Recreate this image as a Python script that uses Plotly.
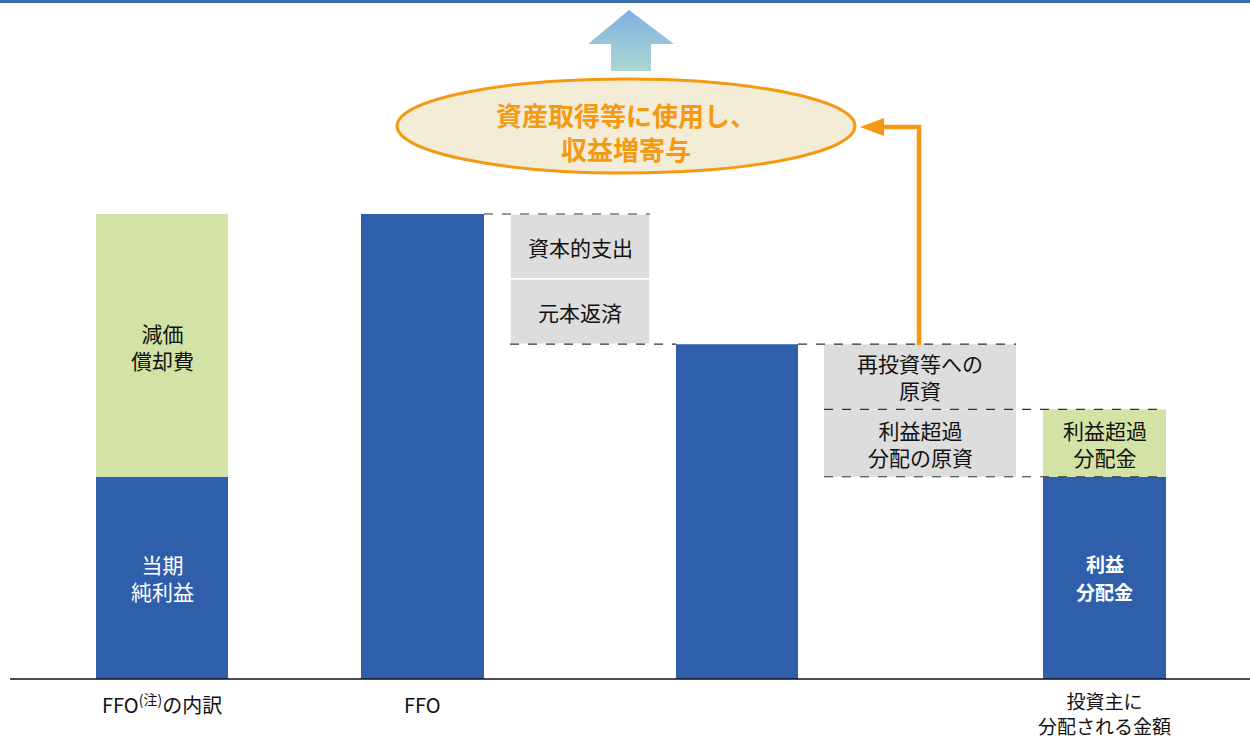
import plotly.graph_objects as go

# ---------------- data (units: FFO = 100) ----------------
categories = ["FFO<sup>(注)</sup>の内訳", "FFO", "", "投資主に<br>分配される金額"]
net_income = 43.5          # 当期純利益
depreciation = 56.5        # 減価償却費
capex = 14.0               # 資本的支出
principal = 14.0           # 元本返済
reinvest = 14.0            # 再投資等への原資
excess_source = 14.5       # 利益超過分配の原資
profit_dist = 43.5         # 利益分配金
excess_dist = 14.5         # 利益超過分配金

ffo = net_income + depreciation
after_debt = ffo - capex - principal

# ---------------- layout constants ----------------
W, H = 1250, 740
BASE_PX = 679
PX_PER_UNIT = 4.65
y_min = -(H - BASE_PX) / PX_PER_UNIT
y_max = BASE_PX / PX_PER_UNIT

def py(p):  # pixel row -> paper y
    return 1 - p / H

def dy(p):  # pixel row -> data y
    return (BASE_PX - p) / PX_PER_UNIT

centers = [162, 422.5, 737, 1104.5]
widths = [132, 123, 122, 123]
gray1_x, gray1_w = 580, 140
gray2_x, gray2_w = 920, 192

BLUE = "#2f5fab"
GREEN = "#d3e3a5"
GRAY = "#dcdddc"
ORANGE = "#f39a12"
FONT = "Noto Sans CJK JP"

fig = go.Figure()

# blue bars
fig.add_trace(go.Bar(
    x=centers, y=[net_income, ffo, after_debt, profit_dist], width=widths,
    marker=dict(color=BLUE, line=dict(width=0)), hoverinfo="skip"))
# green segments
fig.add_trace(go.Bar(
    x=[centers[0], centers[3]], y=[depreciation, excess_dist],
    base=[net_income, profit_dist], width=[widths[0], widths[3]],
    marker=dict(color=GREEN, line=dict(width=0)), hoverinfo="skip"))
# gray boxes (capex, principal)
fig.add_trace(go.Bar(
    x=[gray1_x, gray1_x], y=[capex, principal],
    base=[ffo - capex, after_debt], width=[gray1_w, gray1_w],
    marker=dict(color=GRAY, line=dict(color="white", width=1.5)), hoverinfo="skip"))
# gray boxes (reinvest, excess source)
fig.add_trace(go.Bar(
    x=[gray2_x, gray2_x], y=[reinvest, excess_source],
    base=[after_debt - reinvest, after_debt - reinvest - excess_source],
    width=[gray2_w, gray2_w],
    marker=dict(color=GRAY, line=dict(width=0)), hoverinfo="skip"))

shapes = []
def dash(x0, x1, y):
    shapes.append(dict(type="line", xref="x", yref="y", x0=x0, x1=x1, y0=y, y1=y,
                       line=dict(color="#333333", width=1.2, dash="dash")))

dash(centers[1] + widths[1] / 2, gray1_x + gray1_w / 2, ffo)
dash(gray1_x - gray1_w / 2, centers[2] - widths[2] / 2, after_debt)
dash(centers[2] + widths[2] / 2, gray2_x + gray2_w / 2, after_debt)
dash(gray2_x - gray2_w / 2, centers[3] + widths[3] / 2, after_debt - reinvest)
dash(gray2_x - gray2_w / 2, centers[3] + widths[3] / 2, profit_dist)

# baseline
shapes.append(dict(type="line", xref="x", yref="y", x0=10, x1=1250, y0=0, y1=0,
                   line=dict(color="#111111", width=1.6)))
# top blue rule
shapes.append(dict(type="line", xref="paper", yref="paper", x0=0, x1=1, y0=py(1.5), y1=py(1.5),
                   line=dict(color="#3a6ca8", width=3)))
# ellipse
shapes.append(dict(type="circle", xref="x", yref="paper", x0=397, x1=855, y0=py(173), y1=py(79),
                   fillcolor="#f3ecd7", line=dict(color=ORANGE, width=3), layer="above"))
# orange elbow line
shapes.append(dict(type="path", xref="x", yref="paper",
                   path=f"M 919,{py(345)} L 919,{py(127)} L 878,{py(127)}",
                   line=dict(color=ORANGE, width=4.5), layer="above"))
fig.layout.shapes = shapes

# orange arrowhead
fig.add_trace(go.Scatter(
    x=[860, 884, 884, 860], y=[dy(127), dy(118), dy(136), dy(127)],
    fill="toself", fillcolor=ORANGE, line=dict(color=ORANGE, width=0),
    mode="lines", hoverinfo="skip"))

# gradient up arrow
fig.add_trace(go.Scatter(
    x=[629, 674, 651, 651, 611, 611, 588, 629],
    y=[dy(10), dy(44), dy(44), dy(71), dy(71), dy(44), dy(44), dy(10)],
    fill="toself", mode="lines", line=dict(width=0, color="rgba(0,0,0,0)"),
    fillgradient=dict(type="vertical", colorscale=[[0, "#abd6cf"], [1, "#7fb2e3"]]),
    hoverinfo="skip"))

annotations = []
def label(x, y, text, color="#111111", size=21, bold=False, shift=0):
    annotations.append(dict(x=x, y=y, xref="x", yref="y", text=text, showarrow=False,
                            yshift=shift,
                            font=dict(family=FONT, size=size, color=color,
                                      weight="bold" if bold else "normal")))

# bar 1
label(centers[0], dy(346), "減価<br>償却費")
label(centers[0], net_income / 2, "当期<br>純利益", color="white")
# gray 1
label(gray1_x, ffo - capex / 2, "資本的支出")
label(gray1_x, after_debt + principal / 2, "元本返済")
# gray 2
label(gray2_x, after_debt - reinvest / 2, "再投資等への<br>原資")
label(gray2_x, profit_dist + excess_source / 2, "利益超過<br>分配の原資")
# bar 4
label(centers[3], profit_dist + excess_dist / 2, "利益超過<br>分配金")
label(centers[3], profit_dist / 2, "利益", color="white", size=19, bold=True, shift=14)
label(centers[3], profit_dist / 2, "分配金", color="white", size=19, bold=True, shift=-14)

# category labels below baseline
label(centers[0], dy(704), categories[0], size=20)
label(centers[1], dy(704), categories[1], size=20)
label(centers[3], dy(713), categories[3], size=19)

# ellipse text
label(626, dy(131), "資産取得等に使用し、<br>収益増寄与", color=ORANGE, size=26, bold=True)

fig.update_layout(annotations=annotations)

fig.update_layout(
    width=W, height=H, margin=dict(l=0, r=0, t=0, b=0),
    paper_bgcolor="white", plot_bgcolor="white",
    barmode="overlay", showlegend=False,
    xaxis=dict(range=[0, W], visible=False, fixedrange=True),
    yaxis=dict(range=[y_min, y_max], visible=False, fixedrange=True),
)

fig.write_html("out.html", config={"displayModeBar": False},
               post_script="document.body.style.margin='0';document.body.style.overflow='hidden';")
